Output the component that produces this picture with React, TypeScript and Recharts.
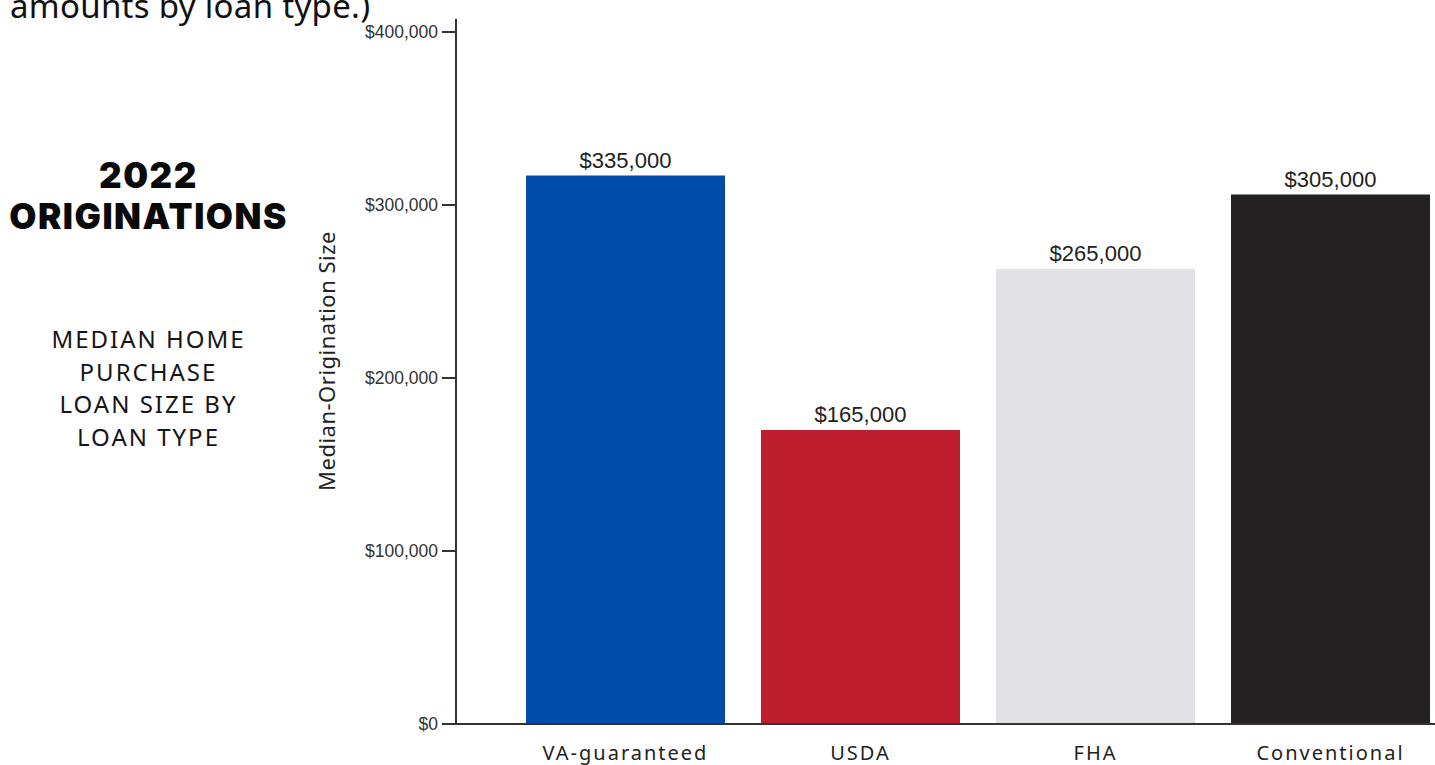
import { BarChart, Bar, XAxis, YAxis, LabelList, Cell } from "recharts";

const loanTypes = ["VA-guaranteed", "USDA", "FHA", "Conventional"];
const barValues = [317000, 170000, 263000, 306000];
const barLabels = ["$335,000", "$165,000", "$265,000", "$305,000"];
const barColors = ["#024cab", "#be1e2d", "#e2e1e6", "#252123"];
const yTicks = [0, 100000, 200000, 300000, 400000];

const data = loanTypes.map((name, i) => ({
  name,
  value: barValues[i],
  label: barLabels[i],
}));

const fmtMoney = (v: number) => "$" + v.toLocaleString("en-US");

export default function App() {
  return (
    <div
      style={{
        position: "absolute",
        left: 0,
        top: 0,
        width: 1435,
        height: 765,
        overflow: "hidden",
        background: "#fff",
        fontFamily: "'Noto Sans', sans-serif",
      }}
    >
      <div
        style={{
          position: "absolute",
          left: 10,
          top: -17,
          fontSize: 33,
          letterSpacing: 0.3,
          color: "#111",
          whiteSpace: "nowrap",
        }}
      >
        amounts by loan type.)
      </div>

      <div
        style={{
          position: "absolute",
          left: 0,
          top: 155,
          width: 297,
          textAlign: "center",
          fontFamily: "Inter, sans-serif",
          fontWeight: 900,
          fontSize: 35,
          letterSpacing: 1.5,
          lineHeight: "41px",
          color: "#0a0a0a",
        }}
      >
        <div>2022</div>
        <div>ORIGINATIONS</div>
      </div>

      <div
        style={{
          position: "absolute",
          left: 0,
          top: 323,
          width: 297,
          textAlign: "center",
          fontSize: 24,
          lineHeight: "32.5px",
          letterSpacing: 2,
          color: "#151515",
        }}
      >
        <div>MEDIAN HOME</div>
        <div>PURCHASE</div>
        <div>LOAN SIZE BY</div>
        <div>LOAN TYPE</div>
      </div>

      <div
        style={{
          position: "absolute",
          left: 326,
          top: 361,
          transform: "translate(-50%, -50%) rotate(-90deg)",
          fontSize: 22,
          letterSpacing: 0.5,
          color: "#222",
          whiteSpace: "nowrap",
        }}
      >
        Median-Origination Size
      </div>

      <div style={{ position: "absolute", left: 0, top: 0 }}>
        <BarChart
          width={1448}
          height={765}
          data={data}
          margin={{ top: 19, right: 0, left: 0, bottom: 0 }}
        >
          <XAxis
            dataKey="name"
            height={41}
            padding={{ left: 52, right: 0 }}
            axisLine={{ stroke: "#333", strokeWidth: 2 }}
            tickLine={false}
            tickSize={0}
            tickMargin={22}
            tick={{ fill: "#222", fontSize: 20, letterSpacing: 2, fontFamily: "'Noto Sans', sans-serif" }}
            interval={0}
          />
          <YAxis
            width={456}
            domain={[0, 407500]}
            ticks={yTicks}
            tickFormatter={fmtMoney}
            axisLine={{ stroke: "#333", strokeWidth: 2 }}
            tickLine={{ stroke: "#333", strokeWidth: 2 }}
            tickSize={14}
            tickMargin={4}
            tick={{ fill: "#333", fontSize: 17.5, fontFamily: "'Liberation Sans', Arial, sans-serif" }}
            allowDataOverflow
          />
          <Bar dataKey="value" barSize={199} isAnimationActive={false}>
            {data.map((d, i) => (
              <Cell key={d.name} fill={barColors[i]} />
            ))}
            <LabelList
              dataKey="label"
              position="top"
              offset={8}
              fill="#222"
              fontSize={22}
              fontFamily="'Liberation Sans', Arial, sans-serif"
            />
          </Bar>
        </BarChart>
      </div>
    </div>
  );
}
